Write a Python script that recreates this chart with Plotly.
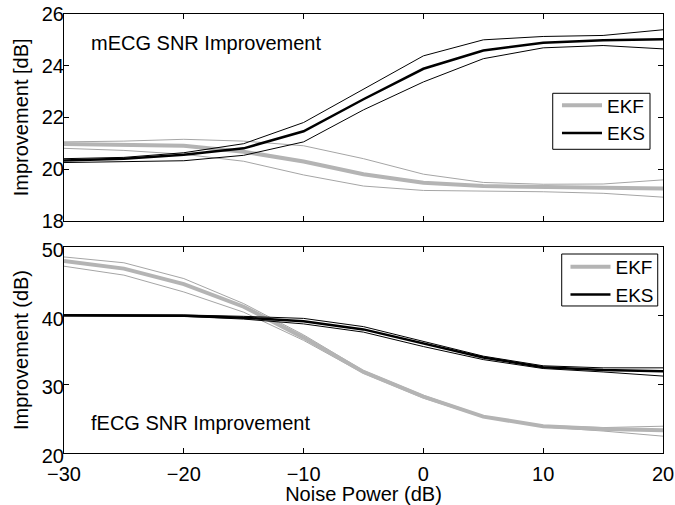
import plotly.graph_objects as go

noise_db = [-30, -25, -20, -15, -10, -5, 0, 5, 10, 15, 20]

# Top panel: mECG SNR improvement [dB]
m_ekf_mean = [20.97, 20.95, 20.90, 20.67, 20.29, 19.80, 19.47, 19.34, 19.31, 19.28, 19.25]
m_ekf_upper = [21.05, 21.08, 21.15, 21.08, 20.90, 20.40, 19.80, 19.48, 19.41, 19.42, 19.58]
m_ekf_lower = [20.80, 20.72, 20.57, 20.30, 19.77, 19.34, 19.17, 19.14, 19.12, 19.06, 18.91]
m_eks_mean = [20.33, 20.40, 20.55, 20.80, 21.46, 22.70, 23.88, 24.59, 24.89, 24.98, 25.02]
m_eks_upper = [20.40, 20.45, 20.63, 20.98, 21.80, 23.10, 24.38, 25.00, 25.13, 25.17, 25.39]
m_eks_lower = [20.25, 20.28, 20.32, 20.53, 21.05, 22.29, 23.37, 24.27, 24.69, 24.78, 24.65]

# Bottom panel: fECG SNR improvement (dB)
f_ekf_mean = [47.97, 46.85, 44.60, 41.30, 36.80, 31.80, 28.20, 25.30, 23.90, 23.50, 23.30]
f_ekf_upper = [48.55, 47.70, 45.40, 41.75, 37.20, 32.00, 28.40, 25.40, 24.00, 23.70, 23.90]
f_ekf_lower = [47.20, 45.90, 43.45, 40.50, 36.40, 31.60, 28.00, 25.20, 23.80, 23.20, 22.45]
f_eks_mean = [40.05, 40.05, 40.00, 39.70, 39.20, 38.00, 35.90, 33.90, 32.50, 32.10, 31.90]
f_eks_upper = [40.15, 40.15, 40.10, 39.90, 39.60, 38.40, 36.30, 34.10, 32.70, 32.40, 32.40]
f_eks_lower = [39.95, 39.95, 39.90, 39.50, 38.80, 37.60, 35.50, 33.60, 32.30, 31.80, 31.20]

x_ticks = [-30, -20, -10, 0, 10, 20]
top_y_ticks = [18, 20, 22, 24, 26]
bot_y_ticks = [20, 30, 40, 50]

GRAY_THICK = "rgb(180,180,180)"
GRAY_THIN = "rgb(165,165,165)"
BLACK = "black"
FONT = "Liberation Sans, Arial, Helvetica, sans-serif"

fig = go.Figure()


def add_panel(xa, ya, legend, ekf, ekf_u, ekf_l, eks, eks_u, eks_l):
    for ys in (ekf_u, ekf_l):
        fig.add_trace(go.Scatter(x=noise_db, y=ys, mode="lines", xaxis=xa, yaxis=ya,
                                 line=dict(color=GRAY_THIN, width=1), showlegend=False,
                                 hoverinfo="skip"))
    fig.add_trace(go.Scatter(x=noise_db, y=ekf, mode="lines", name="EKF", xaxis=xa, yaxis=ya,
                             line=dict(color=GRAY_THICK, width=4), legend=legend))
    for ys in (eks_u, eks_l):
        fig.add_trace(go.Scatter(x=noise_db, y=ys, mode="lines", xaxis=xa, yaxis=ya,
                                 line=dict(color=BLACK, width=1), showlegend=False,
                                 hoverinfo="skip"))
    fig.add_trace(go.Scatter(x=noise_db, y=eks, mode="lines", name="EKS", xaxis=xa, yaxis=ya,
                             line=dict(color=BLACK, width=2.5), legend=legend))


add_panel("x", "y", "legend", m_ekf_mean, m_ekf_upper, m_ekf_lower,
          m_eks_mean, m_eks_upper, m_eks_lower)
add_panel("x2", "y2", "legend2", f_ekf_mean, f_ekf_upper, f_ekf_lower,
          f_eks_mean, f_eks_upper, f_eks_lower)

axis_common = dict(showline=True, linecolor="black", linewidth=1, mirror="ticks",
                   ticks="inside", ticklen=5, tickcolor="black", showgrid=False,
                   zeroline=False, automargin=False,
                   tickfont=dict(size=20, color="black", family=FONT))

legend_common = dict(xanchor="left", yanchor="top", borderwidth=0,
                     bgcolor="rgba(0,0,0,0)", font=dict(size=19, family=FONT, color="black"),
                     tracegroupgap=0, itemwidth=40)

fig.update_layout(
    width=675, height=505,
    margin=dict(l=64, r=12, t=14, b=52, autoexpand=False),
    paper_bgcolor="white", plot_bgcolor="white",
    font=dict(family=FONT, size=20, color="black"),
    xaxis=dict(domain=[0, 1], range=[-30, 20], tickvals=x_ticks, showticklabels=False,
               anchor="y", **axis_common),
    yaxis=dict(domain=[0.5292, 1], range=[18, 26], tickvals=top_y_ticks, anchor="x",
               ticklabelstandoff=-5,
               title=dict(text="Improvement [dB]", standoff=7, font=dict(size=20)),
               **axis_common),
    xaxis2=dict(domain=[0, 1], range=[-30, 20], tickvals=x_ticks, anchor="y2",
                ticklabelstandoff=3,
                title=dict(text="Noise Power (dB)", standoff=0, font=dict(size=20)),
                **axis_common),
    yaxis2=dict(domain=[0, 0.4693], range=[20, 50], tickvals=bot_y_ticks, anchor="x2",
                ticklabelstandoff=-5, ticklabelshift=3,
                title=dict(text="Improvement (dB)", standoff=7, font=dict(size=20)),
                **axis_common),
    legend=dict(x=0.823, y=0.835, **legend_common),
    legend2=dict(x=0.8372, y=0.467, **legend_common),
    shapes=[
        dict(type="rect", xref="paper", yref="paper", x0=0.8159, x1=0.9783,
             y0=0.6918, y1=0.8194, line=dict(color="black", width=1), layer="above"),
        dict(type="rect", xref="paper", yref="paper", x0=0.8309, x1=0.9912,
             y0=0.3349, y1=0.4533, line=dict(color="black", width=1), layer="above"),
    ],
    annotations=[
        dict(text="mECG SNR Improvement", x=-27.9, y=24.89, xref="x", yref="y",
             xanchor="left", yanchor="middle", showarrow=False,
             font=dict(size=20, family=FONT, color="black")),
        dict(text="fECG SNR Improvement", x=-27.9, y=24.4, xref="x2", yref="y2",
             xanchor="left", yanchor="middle", showarrow=False,
             font=dict(size=20, family=FONT, color="black")),
    ],
)

fig.write_html("out.html")
